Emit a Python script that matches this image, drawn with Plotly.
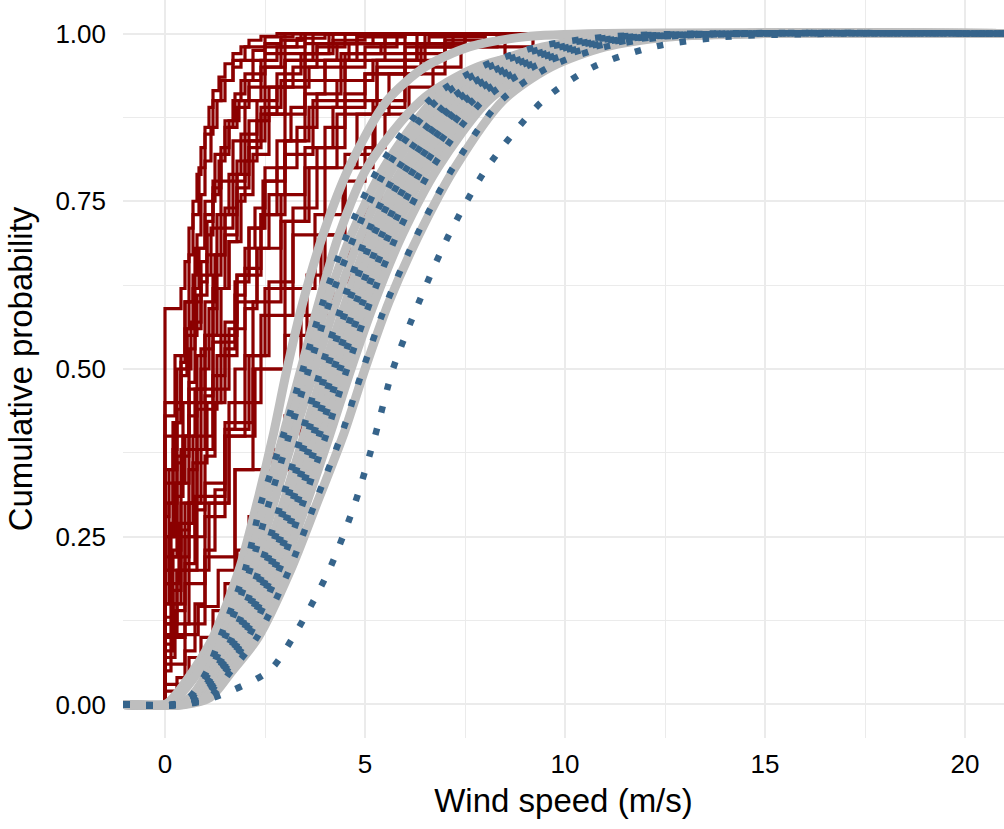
import plotly.graph_objects as go

# probability levels shared by the fitted CDF curves (x = quantile at each level)
cdf_levels = [0, 0.01, 0.05, 0.1, 0.2, 0.3, 0.4, 0.5, 0.6, 0.7, 0.8, 0.9, 0.95, 0.98, 0.995, 1]

# grey fitted curves
grey_1 = [0.0, 0.2, 0.7, 1.2, 1.85, 2.3, 2.7, 3.05, 3.45, 3.95, 4.6, 5.55, 6.5, 7.6, 9.0, 11.0]
grey_2 = [0.05, 0.3, 0.85, 1.35, 2.0, 2.5, 2.95, 3.4, 3.85, 4.35, 5.05, 6.4, 7.8, 10.0, 12.0, 14.5]
grey_3 = [0.2, 0.62, 1.08, 1.44, 2.06, 2.5, 3.02, 3.55, 4.05, 4.66, 5.47, 6.72, 8.0, 9.45, 11.15, 13.8]
grey_4 = [0.27, 0.7, 1.18, 1.58, 2.22, 2.72, 3.22, 3.75, 4.28, 4.9, 5.7, 6.95, 8.25, 9.75, 11.45, 14.0]
grey_5 = [0.31, 0.78, 1.28, 1.73, 2.41, 2.96, 3.47, 3.97, 4.52, 5.13, 5.95, 7.2, 8.5, 10.0, 11.7, 14.2]
grey_6 = [0.34, 0.83, 1.36, 1.83, 2.54, 3.1, 3.62, 4.14, 4.69, 5.32, 6.15, 7.4, 8.7, 10.2, 11.9, 14.5]
grey_7 = [0.37, 0.88, 1.43, 1.93, 2.66, 3.24, 3.78, 4.3, 4.87, 5.51, 6.35, 7.6, 8.9, 10.4, 12.05, 14.5]
grey_8 = [0.4, 0.94, 1.5, 2.03, 2.79, 3.38, 3.94, 4.47, 5.04, 5.7, 6.57, 7.83, 9.1, 10.6, 12.2, 14.8]
grey_9 = [0.44, 1.0, 1.57, 2.14, 2.93, 3.54, 4.11, 4.65, 5.24, 5.93, 6.82, 8.08, 9.33, 10.8, 12.4, 15.0]
grey_10 = [0.5, 1.12, 1.68, 2.33, 3.14, 3.8, 4.45, 5.0, 5.6, 6.35, 7.25, 8.45, 9.65, 11.0, 12.6, 15.0]

# blue dotted fitted curves
blue_1 = [0.2, 0.6, 1.05, 1.38, 2.0, 2.4, 2.95, 3.45, 3.95, 4.55, 5.35, 6.6, 7.9, 9.3, 11.0, 13.5]
blue_2 = [0.25, 0.65, 1.12, 1.5, 2.12, 2.6, 3.1, 3.6, 4.12, 4.75, 5.55, 6.8, 8.1, 9.6, 11.3, 14.0]
blue_3 = [0.3, 0.75, 1.25, 1.68, 2.35, 2.9, 3.4, 3.9, 4.45, 5.05, 5.85, 7.1, 8.4, 9.9, 11.6, 14.0]
blue_4 = [0.32, 0.8, 1.32, 1.78, 2.47, 3.02, 3.55, 4.05, 4.6, 5.22, 6.05, 7.3, 8.6, 10.1, 11.8, 14.5]
blue_5 = [0.35, 0.85, 1.4, 1.88, 2.6, 3.17, 3.7, 4.22, 4.78, 5.42, 6.25, 7.5, 8.8, 10.3, 12.0, 14.5]
blue_6 = [0.38, 0.9, 1.46, 1.97, 2.72, 3.3, 3.85, 4.38, 4.95, 5.6, 6.45, 7.7, 9.0, 10.5, 12.1, 14.5]
blue_7 = [0.42, 0.97, 1.53, 2.08, 2.85, 3.45, 4.02, 4.55, 5.13, 5.8, 6.68, 7.95, 9.2, 10.7, 12.3, 15.0]
blue_8 = [0.5, 1.1, 1.65, 2.3, 3.1, 3.75, 4.4, 4.95, 5.55, 6.3, 7.2, 8.4, 9.6, 11.0, 12.5, 15.0]
blue_9 = [0.3, 1.2, 2.6, 3.2, 4.1, 4.75, 5.25, 5.7, 6.35, 7.1, 8.05, 9.45, 10.7, 12.2, 14.0, 17.0]

# red empirical CDFs (wind speed, cumulative share)
red_01_x = [0, 0.4, 0.5, 0.6, 0.7, 0.8, 0.9, 1.0, 1.1, 1.2, 1.35, 1.5, 1.7, 1.9, 2.1, 2.4, 2.8]
red_01_y = [0.59, 0.62, 0.66, 0.71, 0.75, 0.79, 0.83, 0.86, 0.89, 0.915, 0.935, 0.955, 0.97, 0.98, 0.99, 0.996, 1.0]
red_02_x = [0, 0.1, 0.2, 0.3, 0.4, 0.5, 0.6, 0.7, 0.8, 0.9, 1.0, 1.15, 1.3, 1.5, 1.7, 1.9, 2.2, 2.5, 2.9, 3.2]
red_02_y = [0.2, 0.3, 0.38, 0.45, 0.51, 0.56, 0.6, 0.64, 0.7, 0.76, 0.81, 0.86, 0.9, 0.93, 0.95, 0.96, 0.975, 0.985, 0.995, 1.0]
red_03_x = [0, 0.15, 0.3, 0.45, 0.6, 0.75, 0.9, 1.05, 1.2, 1.35, 1.5, 1.7, 1.9, 2.2, 2.5, 2.9, 3.4]
red_03_y = [0.12, 0.22, 0.31, 0.4, 0.48, 0.56, 0.63, 0.7, 0.76, 0.81, 0.86, 0.9, 0.93, 0.96, 0.98, 0.99, 1.0]
red_04_x = [0, 0.2, 0.4, 0.6, 0.8, 1.0, 1.2, 1.4, 1.6, 1.8, 2.0, 2.3, 2.6, 3.0, 3.5, 4.2]
red_04_y = [0.08, 0.15, 0.22, 0.3, 0.38, 0.46, 0.54, 0.62, 0.69, 0.75, 0.81, 0.87, 0.92, 0.96, 0.985, 1.0]
red_05_x = [0, 0.25, 0.5, 0.75, 1.0, 1.25, 1.5, 1.75, 2.0, 2.5, 3.0, 3.5]
red_05_y = [0.43, 0.52, 0.6, 0.68, 0.75, 0.82, 0.87, 0.91, 0.94, 0.97, 0.99, 1.0]
red_06_x = [0, 0.3, 0.6, 0.9, 1.2, 1.5, 1.8, 2.1, 2.4, 2.8, 3.2, 3.8, 4.5]
red_06_y = [0.3, 0.37, 0.45, 0.53, 0.62, 0.7, 0.77, 0.83, 0.88, 0.92, 0.95, 0.98, 1.0]
red_07_x = [0, 0.35, 0.7, 1.05, 1.4, 1.75, 2.1, 2.45, 2.8, 3.15, 3.5, 4.0, 4.6, 5.2]
red_07_y = [0.18, 0.27, 0.36, 0.45, 0.54, 0.63, 0.71, 0.78, 0.84, 0.89, 0.93, 0.96, 0.985, 1.0]
red_08_x = [0, 0.83, 1.33, 1.75, 2.2, 3.0, 3.55, 4.0, 4.45, 5.0, 5.5, 6.1, 6.7, 7.4, 8.3]
red_08_y = [0.104, 0.146, 0.2, 0.35, 0.5, 0.55, 0.64, 0.7, 0.78, 0.83, 0.88, 0.92, 0.95, 0.98, 1.0]
red_09_x = [0, 0.5, 1.0, 1.75, 3.4, 3.9, 4.5, 5.2, 6.0, 7.0]
red_09_y = [0.06, 0.12, 0.22, 0.35, 0.58, 0.7, 0.8, 0.9, 0.96, 1.0]
red_10_x = [0, 0.5, 1.0, 1.5, 2.2, 2.9, 3.6, 4.3, 5.3, 6.5]
red_10_y = [0.15, 0.25, 0.33, 0.42, 0.6, 0.72, 0.8, 0.88, 0.95, 1.0]
red_11_x = [0, 0.25, 0.5, 0.75, 1.0, 1.3, 1.6, 1.9, 2.2, 2.6, 3.0, 3.5, 4.1]
red_11_y = [0.25, 0.33, 0.4, 0.47, 0.55, 0.62, 0.69, 0.76, 0.82, 0.88, 0.93, 0.97, 1.0]
red_12_x = [0, 0.2, 0.4, 0.65, 0.9, 1.15, 1.4, 1.7, 2.0, 2.4, 2.9, 3.5]
red_12_y = [0.35, 0.42, 0.5, 0.57, 0.64, 0.71, 0.78, 0.84, 0.9, 0.95, 0.98, 1.0]
red_13_x = [0, 0.1, 0.2, 0.3, 0.4, 0.5, 0.6, 0.7, 0.85, 1.0, 1.2, 1.4, 1.7, 2.0, 2.5, 3.0]
red_13_y = [0.15, 0.25, 0.35, 0.44, 0.52, 0.6, 0.67, 0.73, 0.8, 0.85, 0.9, 0.93, 0.96, 0.98, 0.995, 1.0]
red_14_x = [0, 0.3, 0.6, 0.9, 1.2, 1.5, 1.8, 2.1, 2.5, 3.0, 3.6, 4.3, 5.2, 6.3, 7.5]
red_14_y = [0.1, 0.2, 0.3, 0.4, 0.49, 0.57, 0.64, 0.71, 0.78, 0.84, 0.89, 0.93, 0.96, 0.985, 1.0]
red_15_x = [0, 0.8, 1.6, 2.4, 3.2, 4.0, 4.8, 5.6, 6.4, 7.5]
red_15_y = [0.2, 0.3, 0.45, 0.58, 0.7, 0.8, 0.88, 0.94, 0.98, 1.0]
red_16_x = [0, 0.15, 0.3, 0.5, 0.7, 0.9, 1.1, 1.3, 1.5, 1.8, 2.1, 2.5, 3.0, 3.7]
red_16_y = [0.05, 0.12, 0.2, 0.3, 0.4, 0.5, 0.59, 0.67, 0.74, 0.81, 0.87, 0.92, 0.96, 1.0]
red_17_x = [0, 0.4, 0.8, 1.2, 1.6, 2.0, 2.4, 2.8, 3.3, 3.8, 4.4, 5.0, 5.8]
red_17_y = [0.22, 0.3, 0.38, 0.47, 0.56, 0.65, 0.73, 0.8, 0.86, 0.91, 0.95, 0.98, 1.0]
red_18_x = [0, 0.1, 0.25, 0.4, 0.55, 0.7, 0.85, 1.0, 1.2, 1.4, 1.6, 1.85, 2.1, 2.4, 2.8, 3.3, 4.0]
red_18_y = [0.28, 0.35, 0.42, 0.49, 0.56, 0.62, 0.68, 0.73, 0.78, 0.83, 0.87, 0.9, 0.93, 0.96, 0.98, 0.993, 1.0]
red_19_x = [0, 0.6, 1.2, 1.8, 2.4, 3.0, 3.7, 4.5, 5.5]
red_19_y = [0.4, 0.47, 0.55, 0.64, 0.73, 0.82, 0.9, 0.96, 1.0]
red_20_x = [0, 0.3, 0.6, 0.9, 1.2, 1.5, 1.8, 2.1, 2.4, 2.7, 3.0, 3.3, 3.6, 3.9, 4.2, 4.6, 5.0, 5.4, 5.9, 6.4, 7.0, 7.7, 8.5, 9.2]
red_20_y = [0.02, 0.04, 0.07, 0.1, 0.14, 0.18, 0.23, 0.28, 0.33, 0.38, 0.43, 0.48, 0.53, 0.58, 0.63, 0.69, 0.74, 0.78, 0.83, 0.87, 0.91, 0.95, 0.98, 1.0]
red_21_x = [0, 0.2, 0.4, 0.6, 0.8, 1.0, 1.25, 1.5, 1.8, 2.1, 2.5, 3.0, 3.6, 4.4, 5.4, 6.6, 8.0]
red_21_y = [0.13, 0.23, 0.33, 0.43, 0.52, 0.6, 0.67, 0.73, 0.79, 0.84, 0.88, 0.92, 0.95, 0.97, 0.985, 0.995, 1.0]
red_22_x = [0, 0.5, 0.75, 1.0, 1.25, 1.5, 1.75, 2.0, 2.3, 2.6, 3.0, 3.5, 4.0, 4.8]
red_22_y = [0.03, 0.08, 0.15, 0.23, 0.32, 0.41, 0.5, 0.59, 0.68, 0.76, 0.84, 0.91, 0.96, 1.0]
red_23_x = [0, 0.3, 0.55, 0.8, 1.05, 1.3, 1.6, 1.9, 2.3, 2.8, 3.4, 4.2, 5.0]
red_23_y = [0.45, 0.5, 0.55, 0.61, 0.67, 0.73, 0.79, 0.85, 0.9, 0.94, 0.97, 0.99, 1.0]
red_24_x = [0, 0.5, 1.0, 1.5, 2.0, 2.5, 3.0, 3.5, 4.0, 4.5, 5.0, 6.0, 7.0, 8.0]
red_24_y = [0.1, 0.18, 0.28, 0.4, 0.52, 0.62, 0.72, 0.8, 0.86, 0.91, 0.94, 0.97, 0.99, 1.0]
red_25_x = [0, 0.25, 0.5, 0.75, 1.0, 1.25, 1.5, 1.75, 2.0, 2.25, 2.5, 3.0, 3.5, 4.5, 6.0]
red_25_y = [0.07, 0.14, 0.21, 0.29, 0.37, 0.45, 0.53, 0.61, 0.68, 0.74, 0.8, 0.88, 0.93, 0.97, 1.0]
red_26_x = [0, 0.4, 0.8, 1.3, 1.8, 2.3, 2.9, 3.5, 4.2, 5.0, 6.0, 7.2]
red_26_y = [0.33, 0.38, 0.44, 0.52, 0.6, 0.68, 0.76, 0.83, 0.89, 0.94, 0.98, 1.0]
red_27_x = [0, 0.2, 0.4, 0.6, 0.8, 1.0, 1.2, 1.4, 1.7, 2.0, 2.4, 2.9, 3.5, 4.3, 5.5]
red_27_y = [0.09, 0.17, 0.26, 0.35, 0.45, 0.55, 0.64, 0.71, 0.78, 0.84, 0.89, 0.93, 0.96, 0.985, 1.0]
red_28_x = [0, 0.75, 1.5, 2.25, 3.0, 3.75, 4.5, 5.25, 6.0, 7.0, 8.5]
red_28_y = [0.25, 0.31, 0.4, 0.5, 0.62, 0.73, 0.82, 0.89, 0.94, 0.98, 1.0]
red_29_x = [0, 0.15, 0.3, 0.45, 0.6, 0.75, 0.9, 1.05, 1.2, 1.4, 1.6, 1.8, 2.1, 2.5, 3.0, 3.8, 4.8, 6.0]
red_29_y = [0.18, 0.27, 0.36, 0.45, 0.53, 0.6, 0.66, 0.72, 0.77, 0.82, 0.86, 0.89, 0.92, 0.95, 0.97, 0.985, 0.995, 1.0]
red_30_x = [0, 0.6, 1.1, 1.6, 2.1, 2.6, 3.2, 3.8, 4.5, 5.3, 6.3]
red_30_y = [0.12, 0.2, 0.3, 0.41, 0.52, 0.63, 0.74, 0.83, 0.9, 0.96, 1.0]

red_curves = [
    (red_01_x, red_01_y), (red_02_x, red_02_y), (red_03_x, red_03_y), (red_04_x, red_04_y),
    (red_05_x, red_05_y), (red_06_x, red_06_y), (red_07_x, red_07_y), (red_08_x, red_08_y),
    (red_09_x, red_09_y), (red_10_x, red_10_y), (red_11_x, red_11_y), (red_12_x, red_12_y),
    (red_13_x, red_13_y), (red_14_x, red_14_y), (red_15_x, red_15_y), (red_16_x, red_16_y),
    (red_17_x, red_17_y), (red_18_x, red_18_y), (red_19_x, red_19_y), (red_20_x, red_20_y),
    (red_21_x, red_21_y), (red_22_x, red_22_y), (red_23_x, red_23_y), (red_24_x, red_24_y),
    (red_25_x, red_25_y), (red_26_x, red_26_y), (red_27_x, red_27_y), (red_28_x, red_28_y),
    (red_29_x, red_29_y), (red_30_x, red_30_y),
]
grey_curves = [grey_1, grey_2, grey_3, grey_4, grey_5, grey_6, grey_7, grey_8, grey_9, grey_10]
blue_curves = [blue_1, blue_2, blue_3, blue_4, blue_5, blue_6, blue_7, blue_8, blue_9]

X_MIN, X_MAX = -1.05, 20.975

fig = go.Figure()

# empirical CDFs, padded to both ends of the axis
for xs, ys in red_curves:
    fig.add_trace(go.Scatter(
        x=[X_MIN] + xs + [X_MAX], y=[0] + ys + [1],
        mode="lines", line=dict(color="#8B0000", width=3.2, shape="hv"),
        hoverinfo="skip"))

for q in grey_curves:
    fig.add_trace(go.Scatter(
        x=[X_MIN] + q + [X_MAX], y=[0] + cdf_levels + [1],
        mode="lines", line=dict(color="#BEBEBE", width=9, shape="spline", smoothing=0.8),
        hoverinfo="skip"))

for q in blue_curves:
    fig.add_trace(go.Scatter(
        x=[X_MIN] + q + [X_MAX], y=[0] + cdf_levels + [1],
        mode="lines", line=dict(color="#36648B", width=6.5, dash="6.5px,16.5px",
                                shape="spline", smoothing=0.8),
        hoverinfo="skip"))

grid = "#EBEBEB"
fig.update_layout(
    template="none",
    width=1004, height=829,
    margin=dict(l=123, r=0, t=0, b=91),
    plot_bgcolor="white", paper_bgcolor="white",
    showlegend=False,
    font=dict(family="Liberation Sans, Arial, sans-serif", color="black"),
    xaxis=dict(
        range=[X_MIN, X_MAX], tickvals=[0, 5, 10, 15, 20],
        showgrid=True, gridcolor=grid, gridwidth=2,
        minor=dict(dtick=2.5, tick0=0, showgrid=True, gridcolor=grid, gridwidth=1),
        zeroline=False, showline=False, ticks="", automargin=False,
        tickfont=dict(size=26), ticklabelstandoff=8,
        title=dict(text="Wind speed (m/s)", font=dict(size=33), standoff=10),
    ),
    yaxis=dict(
        range=[-0.05, 1.05], tickvals=[0, 0.25, 0.5, 0.75, 1.0], tickformat=".2f",
        showgrid=True, gridcolor=grid, gridwidth=2,
        minor=dict(dtick=0.125, tick0=0, showgrid=True, gridcolor=grid, gridwidth=1),
        zeroline=False, showline=False, ticks="", automargin=False,
        tickfont=dict(size=26), ticklabelstandoff=16,
        title=dict(text="Cumulative probability", font=dict(size=33), standoff=12),
    ),
)

# page body has a default 8px margin; drop it so the figure fills the window
fig.write_html("out.html", config={"displayModeBar": False},
               post_script="document.body.style.margin='0';")
